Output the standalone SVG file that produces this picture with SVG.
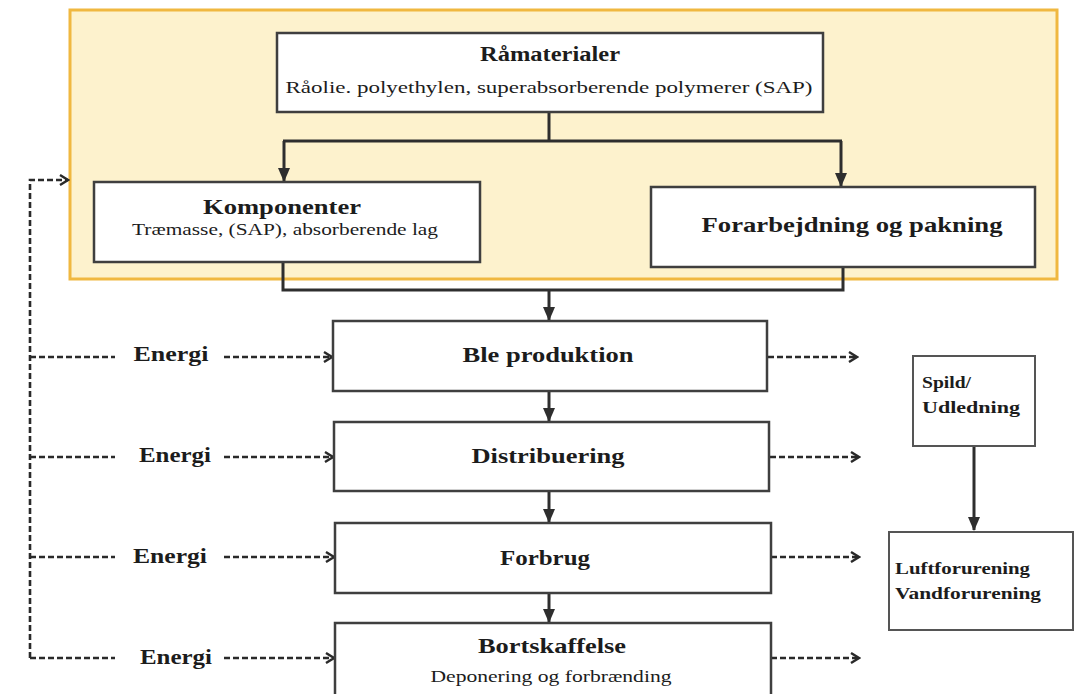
<svg xmlns="http://www.w3.org/2000/svg" width="1078" height="694" viewBox="0 0 1078 694">
<style>
  .box{fill:#fff;stroke:#3f3f3f;stroke-width:2.5}
  .t{font-family:"Liberation Serif","Times New Roman",serif;fill:#1c1c1c}
  .b{font-weight:bold}
  .solid{fill:none;stroke:#2e2e2e;stroke-width:3}
  .dash{fill:none;stroke:#2a2a2a;stroke-width:2.6;stroke-dasharray:6 3}
</style>
<defs>
  <marker id="tri" markerUnits="userSpaceOnUse" markerWidth="14" markerHeight="14" viewBox="0 0 14 14" refX="13" refY="7" orient="auto">
    <path d="M0,1 L14,7 L0,13 Z" fill="#2e2e2e"/>
  </marker>
  <marker id="chev" markerUnits="userSpaceOnUse" markerWidth="12" markerHeight="12" viewBox="0 0 12 12" refX="10" refY="6" orient="auto">
    <path d="M2,1 L10,6 L2,11" fill="none" stroke="#2a2a2a" stroke-width="2.4"/>
  </marker>
</defs>
<rect width="1078" height="694" fill="#fff"/>
<g id="lifecycle-frame">
  <rect x="70" y="10" width="987" height="269" fill="#fdf2cd" stroke="#f0b840" stroke-width="3"/>
</g>
<g id="connectors">
  <path class="solid" d="M549,112 V141 M283,141 H842"/>
  <path class="solid" d="M284,141 V181" marker-end="url(#tri)"/>
  <path class="solid" d="M841,141 V186" marker-end="url(#tri)"/>
  <path class="solid" d="M283,262 V290 H843 V267"/>
  <path class="solid" d="M549,290 V320" marker-end="url(#tri)"/>
  <path class="solid" d="M549,391 V421" marker-end="url(#tri)"/>
  <path class="solid" d="M549,491 V522" marker-end="url(#tri)"/>
  <path class="solid" d="M549,593 V622" marker-end="url(#tri)"/>
  <path class="solid" d="M974,446 V530" marker-end="url(#tri)"/>
  <path class="dash" d="M30,658 V180 H68" marker-end="url(#chev)"/>
  <path class="dash" d="M30,357 H115 M30,457 H115 M30,557 H115 M30,658 H115"/>
  <path class="dash" d="M224,357 H332" marker-end="url(#chev)"/>
  <path class="dash" d="M224,457 H333" marker-end="url(#chev)"/>
  <path class="dash" d="M224,557 H334" marker-end="url(#chev)"/>
  <path class="dash" d="M224,658 H334" marker-end="url(#chev)"/>
  <path class="dash" d="M768,357 H857" marker-end="url(#chev)"/>
  <path class="dash" d="M770,457 H859" marker-end="url(#chev)"/>
  <path class="dash" d="M771,557 H859" marker-end="url(#chev)"/>
  <path class="dash" d="M771,658 H859" marker-end="url(#chev)"/>
</g>
<g id="energi-labels">
  <text class="t b" x="171" y="361" font-size="21" text-anchor="middle" textLength="75" lengthAdjust="spacingAndGlyphs">Energi</text>
  <text class="t b" x="175" y="462" font-size="21" text-anchor="middle" textLength="72" lengthAdjust="spacingAndGlyphs">Energi</text>
  <text class="t b" x="170" y="563" font-size="21" text-anchor="middle" textLength="74" lengthAdjust="spacingAndGlyphs">Energi</text>
  <text class="t b" x="176" y="664" font-size="21" text-anchor="middle" textLength="72" lengthAdjust="spacingAndGlyphs">Energi</text>
</g>
<g id="raamaterialer">
  <rect class="box" x="277" y="33" width="546" height="79"/>
  <text class="t b" x="550" y="61" font-size="20" text-anchor="middle" textLength="140" lengthAdjust="spacingAndGlyphs">Råmaterialer</text>
  <text class="t" x="549" y="93" font-size="17" text-anchor="middle" textLength="527" lengthAdjust="spacingAndGlyphs">Råolie. polyethylen, superabsorberende polymerer (SAP)</text>
</g>
<g id="komponenter">
  <rect class="box" x="94" y="182" width="386" height="80"/>
  <text class="t b" x="282" y="214" font-size="21" text-anchor="middle" textLength="158" lengthAdjust="spacingAndGlyphs">Komponenter</text>
  <text class="t" x="285" y="235" font-size="16" text-anchor="middle" textLength="306" lengthAdjust="spacingAndGlyphs">Træmasse, (SAP), absorberende lag</text>
</g>
<g id="forarbejdning">
  <rect class="box" x="651" y="187" width="384" height="80"/>
  <text class="t b" x="852" y="232" font-size="22" text-anchor="middle" textLength="301" lengthAdjust="spacingAndGlyphs">Forarbejdning og pakning</text>
</g>
<g id="ble-produktion">
  <rect class="box" x="333" y="321" width="434" height="70"/>
  <text class="t b" x="548" y="362" font-size="21" text-anchor="middle" textLength="171" lengthAdjust="spacingAndGlyphs">Ble produktion</text>
</g>
<g id="distribuering">
  <rect class="box" x="334" y="422" width="435" height="69"/>
  <text class="t b" x="548" y="463" font-size="21" text-anchor="middle" textLength="153" lengthAdjust="spacingAndGlyphs">Distribuering</text>
</g>
<g id="forbrug">
  <rect class="box" x="335" y="523" width="436" height="70"/>
  <text class="t b" x="545" y="565" font-size="21" text-anchor="middle" textLength="90" lengthAdjust="spacingAndGlyphs">Forbrug</text>
</g>
<g id="bortskaffelse">
  <rect class="box" x="335" y="623" width="436" height="80"/>
  <text class="t b" x="552" y="653" font-size="20" text-anchor="middle" textLength="148" lengthAdjust="spacingAndGlyphs">Bortskaffelse</text>
  <text class="t" x="551" y="682" font-size="17" text-anchor="middle" textLength="241" lengthAdjust="spacingAndGlyphs">Deponering og forbrænding</text>
</g>
<g id="spild">
  <rect x="913" y="356" width="122" height="90" fill="#fff" stroke="#555" stroke-width="2"/>
  <text class="t b" x="922" y="388" font-size="16" textLength="49" lengthAdjust="spacingAndGlyphs">Spild/</text>
  <text class="t b" x="922" y="413" font-size="16" textLength="98" lengthAdjust="spacingAndGlyphs">Udledning</text>
</g>
<g id="forurening">
  <rect x="889" y="532" width="184" height="98" fill="#fff" stroke="#555" stroke-width="2"/>
  <text class="t b" x="895" y="574" font-size="17" textLength="135" lengthAdjust="spacingAndGlyphs">Luftforurening</text>
  <text class="t b" x="895" y="599" font-size="17" textLength="146" lengthAdjust="spacingAndGlyphs">Vandforurening</text>
</g>
</svg>
